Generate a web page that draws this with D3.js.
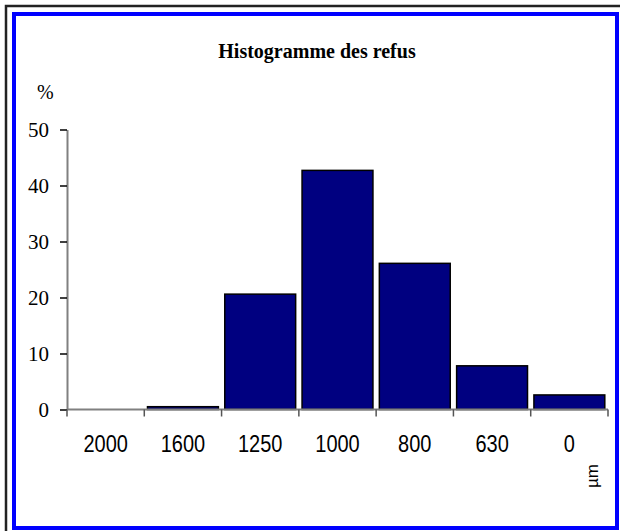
<!DOCTYPE html>
<html>
<head>
<meta charset="utf-8">
<script src="https://cdn.jsdelivr.net/npm/d3@7"></script>
<style>
  body { margin: 0; background: #fff; }
  .y-axis text { font-family: "Liberation Serif", "Times New Roman", serif; font-size: 21px; fill: #000; }
  .y-axis line { stroke: #000; stroke-width: 1.5; }
  .y-axis path { stroke: #808080; stroke-width: 2; }
</style>
</head>
<body>
<svg id="chart"></svg>
<script>
// refus (%) par tamis (µm)
const sieves = ["2000", "1600", "1250", "1000", "800", "630", "0"];
const refus = [0, 0.5, 20.6, 42.7, 26.1, 7.8, 2.6];
const yTicks = [0, 10, 20, 30, 40, 50];

const width = 620, height = 531;
const margin = {top: 129.5, right: 12, bottom: 121.5, left: 67};
const innerW = width - margin.left - margin.right;
const innerH = height - margin.top - margin.bottom;

const svg = d3.select("#chart")
    .attr("width", width)
    .attr("height", height);

// frames
svg.append("rect")
    .attr("x", 6).attr("y", 6)
    .attr("width", 620).attr("height", 530)
    .attr("fill", "none")
    .attr("stroke", "#222")
    .attr("stroke-width", 2.5);
svg.append("rect")
    .attr("x", 14).attr("y", 14)
    .attr("width", 603).attr("height", 514)
    .attr("fill", "#fff")
    .attr("stroke", "#0000ff")
    .attr("stroke-width", 4);

// title
svg.append("text")
    .attr("x", 317).attr("y", 57.5)
    .attr("text-anchor", "middle")
    .style("font-family", "'Liberation Serif', 'Times New Roman', serif")
    .style("font-weight", "bold")
    .style("font-size", "20px")
    .text("Histogramme des refus");

svg.append("text")
    .attr("x", 37).attr("y", 99)
    .style("font-family", "'Liberation Serif', 'Times New Roman', serif")
    .style("font-size", "20px")
    .text("%");

const chart = svg.append("g")
    .attr("transform", `translate(${margin.left},${margin.top})`);

const xScale = d3.scaleBand()
    .domain(sieves)
    .range([0, innerW]);
const yScale = d3.scaleLinear()
    .domain([0, 50])
    .range([innerH, 0]);

// bars
const inset = 3.2;
chart.selectAll("rect.bar")
    .data(refus)
    .join("rect")
    .attr("class", "bar")
    .attr("x", (d, i) => xScale(sieves[i]) + inset)
    .attr("y", d => yScale(d))
    .attr("width", xScale.bandwidth() - 2 * inset)
    .attr("height", d => innerH - yScale(d))
    .attr("fill", "#000080")
    .attr("stroke", "#000")
    .attr("stroke-width", d => d > 0 ? 1.5 : 0);

// y axis
chart.append("g")
    .attr("class", "y-axis")
    .call(d3.axisLeft(yScale).tickValues(yTicks).tickSize(7).tickPadding(11).tickSizeOuter(0));

// x axis: line, ticks at band edges, labels centred
chart.append("line")
    .attr("x1", 0).attr("x2", innerW)
    .attr("y1", innerH).attr("y2", innerH)
    .attr("stroke", "#808080")
    .attr("stroke-width", 2);

const edges = sieves.map(s => xScale(s)).concat([innerW]);
chart.selectAll("line.xtick")
    .data(edges)
    .join("line")
    .attr("class", "xtick")
    .attr("x1", d => d).attr("x2", d => d)
    .attr("y1", innerH).attr("y2", innerH + 7)
    .attr("stroke", "#555")
    .attr("stroke-width", 1.5);

chart.selectAll("text.xlabel")
    .data(sieves)
    .join("text")
    .attr("class", "xlabel")
    .attr("text-anchor", "middle")
    .attr("transform", d => `translate(${xScale(d) + xScale.bandwidth() / 2},${innerH + 42.5}) scale(1,1.2)`)
    .style("font-family", "'Liberation Sans', Arial, sans-serif")
    .style("font-size", "20px")
    .text(d => d);

svg.append("text")
    .attr("transform", "translate(598,476) rotate(-90)")
    .attr("text-anchor", "middle")
    .style("font-family", "'Liberation Sans', Arial, sans-serif")
    .style("font-size", "17px")
    .text("µm");
</script>
</body>
</html>
